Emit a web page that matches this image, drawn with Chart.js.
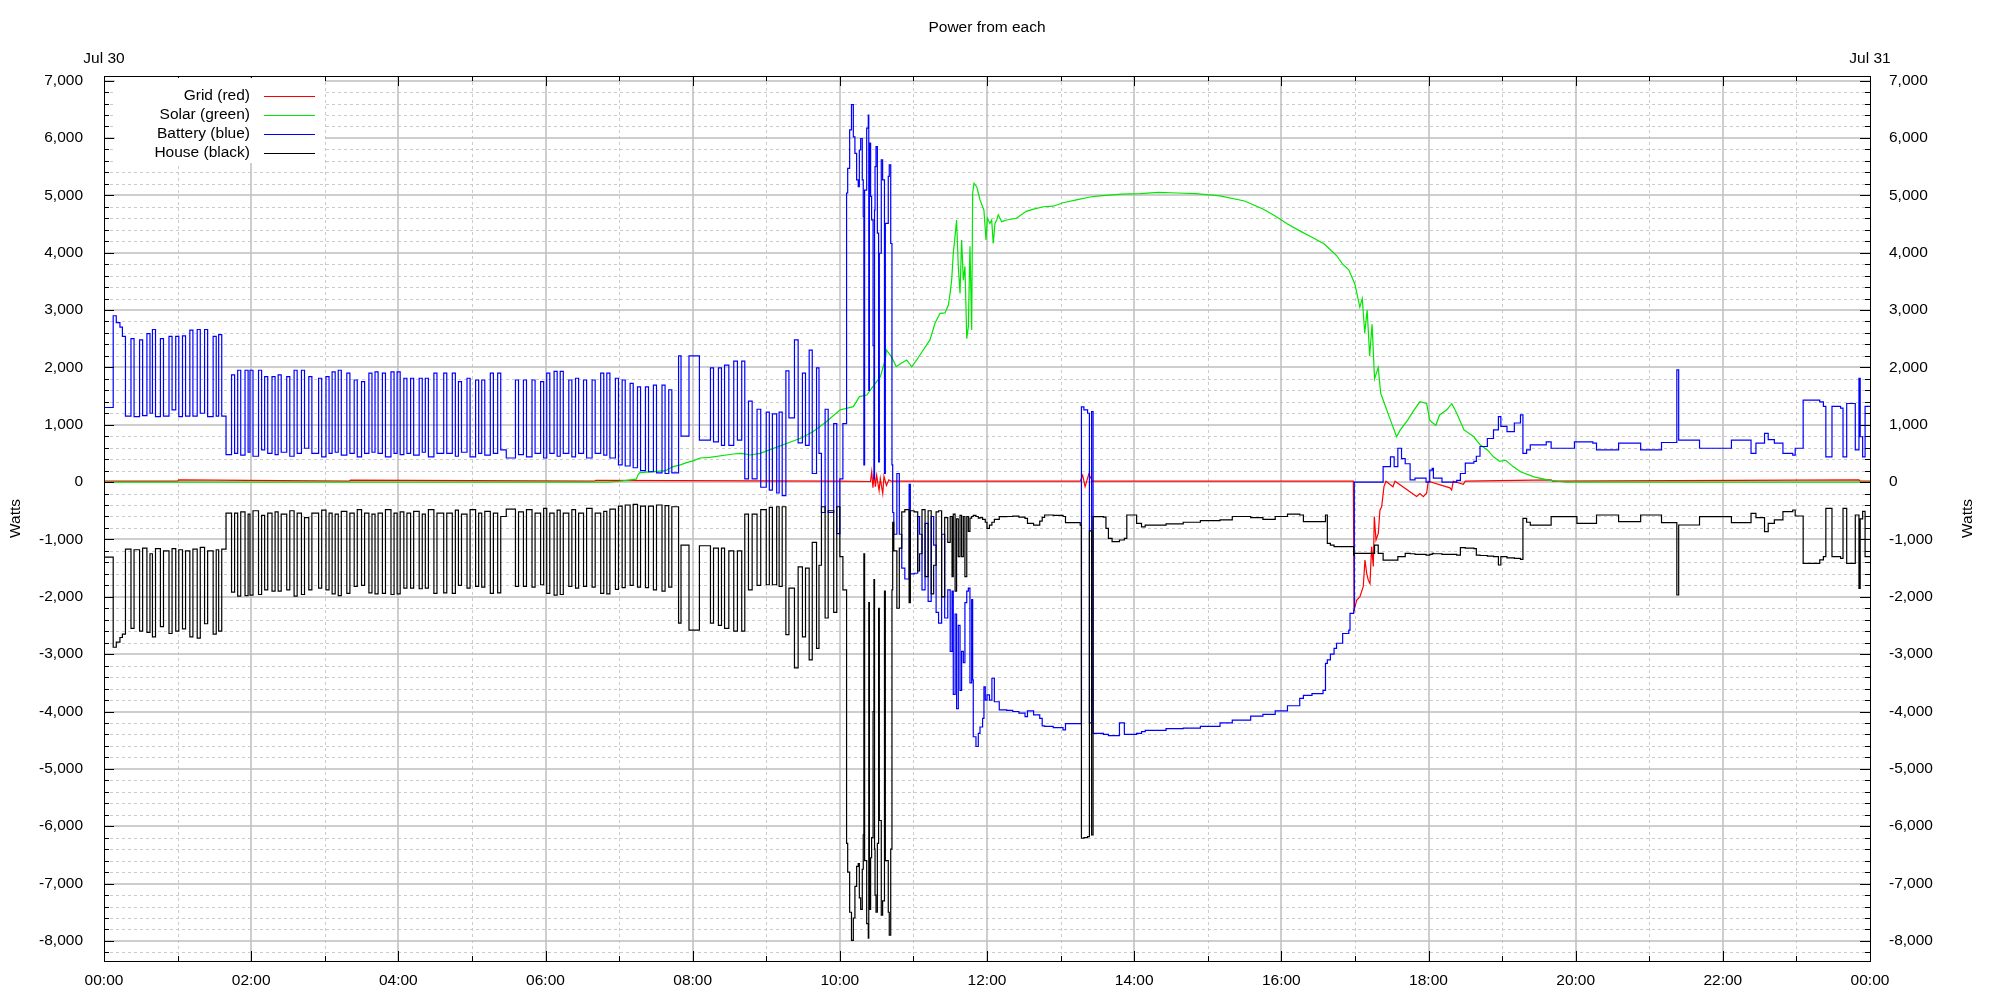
<!DOCTYPE html>
<html>
<head>
<meta charset="utf-8">
<title>Power from each</title>
<script src="https://cdn.jsdelivr.net/npm/chart.js@4.4.1/dist/chart.umd.min.js"></script>
<style>
  html, body { margin: 0; padding: 0; background: #fff; }
  #wrap { width: 2000px; height: 1000px; position: relative; }
</style>
</head>
<body>
<div id="wrap"><canvas id="power-chart"></canvas></div>
<script>
// Axis ticks
const xTicks = [0, 120, 240, 360, 480, 600, 720, 840, 960, 1080, 1200, 1320, 1440];
const xTickLabels = ["00:00", "02:00", "04:00", "06:00", "08:00", "10:00", "12:00",
    "14:00", "16:00", "18:00", "20:00", "22:00", "00:00"];
const dayLabels = ["Jul 30", "Jul 31"];
const yTicks = [-8000, -7000, -6000, -5000, -4000, -3000, -2000, -1000, 0,
    1000, 2000, 3000, 4000, 5000, 6000, 7000];

// Grid (red): minutes after midnight, watts
const gridMin = [0, 60, 61, 200, 201, 400, 401, 600,
    625, 626, 627, 628, 629, 630, 632, 633, 635, 636, 638, 640, 642, 700, 796,
    798, 800, 803, 806,
    1018.7, 1019.4, 1021.4, 1024.1, 1026.8, 1028.2, 1029.6, 1030.9, 1032.3, 1033.6, 1035, 1035.8,
    1037.2, 1039.1, 1040.4, 1041.8, 1043.7, 1045.3,
    1051, 1052.7, 1070.3, 1073, 1075.8, 1078.5, 1079.8, 1097.5, 1098.9, 1100.2, 1108.4, 1110,
    1180, 1181, 1431, 1432, 1440];
const grid = [15, 15, 40, 15, 35, 15, 30, 15,
    10, 180, -100, 150, -80, 120, -150, 60, -200, 100, -60, 40, 15, 15, 15,
    120, -80, 140, 15,
    15, -2230, -2060, -2000, -1820, -1360, -1590, -1710, -1770, -1130, -1470, -600,
    -1010, -890, -490, -430, -80, 15,
    -80, 15, -250, -200, -255, -190, 15, -100, -140, 15, -40, 15,
    40, 15, 40, 15, 15];

// Solar (green)
const solarMin = [0, 411, 420, 426, 434, 435.7, 437, 448, 456, 459, 464, 470, 475, 481, 486, 494,
    513, 520, 527, 535, 546, 557, 568, 578, 589, 600, 611, 616, 622, 627, 633, 637, 638, 642,
    646, 650, 654.5, 658.6, 662.7, 668, 673.5, 677.6, 681.7, 685.8, 688.5, 689.9, 691.2,
    692.5, 693.9, 695.2, 696.6, 698, 699.3, 700.7, 702, 703.5, 704.8, 706.1, 707.5, 708.3,
    709.4, 711.6, 712.9, 714.3, 716.4, 717.5, 719.2, 720.3, 722.4, 723.8, 725.1, 726.5,
    727.9, 729.2, 732, 736, 744, 752, 758, 766, 774, 782, 793, 804, 812, 830, 845, 860,
    875, 890, 910, 930, 945, 955, 965, 975, 985, 995, 1000, 1005, 1010, 1015, 1020,
    1024, 1026, 1028, 1030, 1032, 1034, 1036, 1039, 1041, 1043, 1049, 1054, 1057, 1063,
    1068, 1073, 1078.5, 1081, 1084, 1086, 1089, 1095, 1099, 1103, 1109, 1117, 1122, 1128,
    1133, 1138, 1143, 1149, 1155, 1166, 1177, 1187, 1192, 1440];
const solar = [0, 0, 14, 30, 50, 135, 165, 182, 194, 211, 270, 300, 340, 374, 420, 430,
    490, 500, 472, 500, 588, 676, 763, 879, 1053, 1257, 1315, 1490, 1518, 1664, 1838, 2129, 2303, 2187,
    2013, 2071, 2129, 2010, 2129, 2303, 2478, 2768, 2943, 2950, 3088, 3291, 3524,
    3990, 4280, 4570, 3760, 3290, 4220, 3520, 3760, 2500, 2710, 4110, 2650, 5040,
    5210, 5150, 5040, 4920, 4800, 4740, 4220, 4600, 4510, 4570, 4160, 4510,
    4570, 4660, 4540, 4570, 4600, 4720, 4760, 4800, 4810, 4870, 4920, 4970, 4990, 5020, 5030, 5050,
    5040, 5030, 4990, 4900, 4760, 4640, 4500, 4380, 4270, 4150, 4050, 3950, 3800, 3700, 3450,
    3050, 3200, 2600, 3000, 2200, 2750, 1800, 2000, 1550, 1430, 1080, 790, 910, 1080,
    1250, 1400, 1370, 1080, 1020, 990, 1170, 1260, 1370, 1200, 910, 790, 650, 560,
    440, 360, 380, 270, 180, 90, 40, 10, 0, 0];

// Battery (blue) and House (black) share one time column
const battMin = [
    0, 7.5, 10, 13, 15, 17.5, 22, 24.5, 29, 31.5, 35, 37.5, 39.5, 42, 46, 48.5, 53, 55.5, 58.5, 61, 64, 66.5, 70, 72.5, 76, 78.5, 82, 84.5, 89, 91.5, 93.5, 96, 99.5,
    104, 106.5, 109, 111.5, 115, 117.5, 119, 121.5, 126, 128.5, 131, 133.5, 137, 139.5, 142, 144.5, 149, 151.5, 155, 157.5,
    161, 163.5, 167, 169.5, 175, 177.5, 181, 183.5, 186, 188.5, 191, 193.5, 198, 200.5, 204, 206.5, 210, 212.5, 216, 218.5,
    221, 223.5, 227, 229.5, 234, 236.5, 239, 241.5, 244.5, 247, 250, 252.5, 257, 259.5, 262, 264.5, 269, 271.5, 277, 279.5,
    284, 286.5, 289, 291.5, 296, 298.5, 303, 305.5, 308, 310.5, 315, 317.5, 321, 323.5, 328,
    335.5, 338, 342, 344.5, 349, 351.5, 356, 358.5, 361, 363.5, 367, 369.5, 372, 374.5, 379, 381.5, 384.5, 387, 391, 393.5,
    398, 400.5, 405, 407.5, 410, 412.5, 417, 419.5, 422.5, 425, 429, 431.5, 435, 437.5, 441.5, 444, 448, 450.5, 455, 457.5, 460.5, 463,
    468.5, 470.5, 477, 485.5, 494.5, 497, 501, 503.5, 506, 509.5, 513.5, 516.5, 520, 522.5,
    525.5, 528.5, 532.5, 535.5, 540, 542.5, 545, 548.5, 550.5, 553,
    556, 558.5, 563, 566, 569.5, 572, 575, 577.5, 581, 583, 585, 588, 590.5, 595, 597.5, 600, 602.5,
    605.5, 606.4, 608, 609.5, 611, 612.3, 613.7, 615, 615.9, 617, 618.3, 619.1, 619.6, 620.2, 621.9, 623.2, 623.6, 624.1, 625.1, 625.9,
    627.1, 627.8, 628.3, 628.7, 629.5, 630.6, 631.6, 632.2, 633.8, 634.9, 636.4, 637.1, 639.5, 640.3, 641.5, 642.5, 643.1,
    644, 646.5, 648.5, 650.5, 653, 656.5, 657.5, 660.5, 663.5, 665, 667, 669.5, 672, 674.5, 676.5, 678.5, 680.5, 683, 685.5, 688,
    690, 691.5, 692.5, 694, 695.2, 696.6, 698, 699.3, 700.7, 702, 703.5, 704.8, 706.1, 707.5, 708.3, 708.8, 711, 712.9, 714.3, 716.4,
    717.5, 718.6, 720,
    722, 724, 726, 730, 736, 741, 746, 751, 753, 758, 763, 765, 767, 774, 782, 784, 796, 797, 799, 802,
    803.5, 805.3, 806.5, 815, 817, 819, 822, 828, 832, 834, 842, 846, 849, 866, 880, 894, 910, 920, 935, 945,
    955, 965, 975, 978, 985, 994, 996, 997.5, 1000, 1003, 1005, 1010, 1015, 1016, 1019,
    1019.5, 1036, 1039, 1043, 1049, 1052, 1055, 1058, 1061, 1065, 1069, 1078, 1081, 1083, 1084, 1091, 1103, 1106, 1110, 1117,
    1119, 1122, 1128, 1133, 1137, 1139, 1144, 1150, 1155, 1157, 1160, 1163, 1176, 1180, 1199, 1201, 1214, 1217, 1235, 1253,
    1270, 1282.5, 1284, 1301, 1327, 1343, 1347, 1354, 1357, 1362, 1369, 1377, 1379, 1385.5, 1399, 1402, 1404, 1409, 1416, 1418,
    1421, 1428, 1431, 1432, 1434, 1436, 1440];
const battery = [
    1300, 2900, 2780, 2700, 2540, 1150, 2500, 1140, 2480, 1160, 2590, 1200, 2660, 1140, 2500, 1150, 2540, 1260, 2540, 1140, 2550, 1150, 2650, 1150, 2660, 1200, 2660, 1140, 2540, 1150, 2570, 1150, 480,
    1870, 500, 1950, 470, 1950, 520, 1950, 450, 1950, 560, 1840, 500, 1840, 480, 1870, 520, 1840, 450, 1950, 500,
    1950, 590, 1840, 500, 1810, 440, 1840, 500, 1920, 520, 1950, 470, 1900, 500, 1780, 440, 1750, 500, 1900, 520,
    1920, 500, 1900, 440, 1920, 500, 1920, 480, 1810, 500, 1810, 470, 1810, 520, 1810, 440, 1900, 500, 1900, 500,
    1900, 450, 1750, 520, 1810, 440, 1780, 500, 1780, 470, 1900, 500, 1900, 560, 420,
    1780, 480, 1780, 440, 1780, 500, 1750, 420, 1900, 500, 1930, 450, 1930, 500, 1780, 440, 1810, 500, 1780, 420,
    1780, 500, 1900, 470, 1900, 420, 1810, 300, 1780, 280, 1720, 250, 1660, 200, 1660, 180, 1690, 160, 1690, 150, 1610, 160,
    2200, 800, 2200, 730, 1990, 700, 1990, 640, 2040, 640, 2110, 730, 2110, 55,
    1410, 55, 1270, -90, 1220, -140, 1190, -190, 1220, -235,
    1940, 1120, 2480, 685, 1900, 640, 2300, 150, 1990, 500, -530, 1270, -530, 1020, -900, 55, 1020,
    5040, 5470, 6140, 6580, 6020, 5730, 5270, 5150, 5790, 5990, 5270, 4630, 300, 5090, 6170, 6400, 1600, 5910, 4980, 4570,
    2380, 60, 4740, 5500, 5850, 4340, 350, 3990, 5620, 5270, 150, 4510, 5330, 5530, 4160, 300, -530,
    -910, 150, -910, -1500, -1690, -40, -1600, -1590, -600, -910, -1880, -720, -2080, -600, -1100, -2270, -2460, -910, -2370, -1880,
    -2950, -1900, -3700, -2300, -3950, -2500, -3630, -2950, -3150, -2100, -1900, -1850, -3500, -2050, -3450, -4440, -4610, -4380, -4270, -4120,
    -3570, -3800, -3710,
    -3800, -3420, -3830, -3970, -3980, -4000, -4030, -4090, -3990, -4060, -4120, -4250, -4260, -4280, -4320, -4210, -4210, 1310, 1260, 1200,
    -4200, 1230, -4380, -4400, -4400, -4420, -4420, -4200, -4400, -4400, -4380, -4350, -4330, -4300, -4290, -4260, -4200, -4150, -4080, -4050,
    -3990, -3900, -3770, -3720, -3690, -3630, -3160, -3100, -3000, -2900, -2810, -2640, -2580, -2290, -2230,
    0, 0, 0, 270, 440, 270, 590, 410, 320, 40, 70, 0, 210, 240, 70, 0, 30, 150, 330, 360,
    450, 620, 760, 910, 1140, 970, 880, 1030, 1170, 500, 560, 650, 700, 590, 700, 700, 680, 560, 680, 560,
    690, 1955, 730, 590, 730, 500, 680, 850, 740, 680, 500, 470, 590, 1430, 1400, 1320, 440, 1320, 1290, 440,
    1370, 560, 1810, 790, 440, 1320, 1320];
const house = [
    -1310, -2880, -2790, -2710, -2650, -1170, -2550, -1180, -2600, -1150, -2620, -1250, -2700, -1160, -2520, -1200, -2640, -1160, -2600, -1180, -2560, -1200, -2700, -1170, -2720, -1140, -2470, -1200, -2650, -1180, -2600, -1170, -540,
    -1920, -540, -1990, -520, -1980, -560, -1970, -500, -1960, -580, -1880, -540, -1900, -520, -1900, -560, -1880, -500, -1990, -540,
    -1960, -620, -1880, -540, -1850, -490, -1880, -540, -1950, -560, -1980, -510, -1940, -540, -1820, -480, -1800, -540, -1930, -560,
    -1950, -540, -1940, -480, -1960, -540, -1950, -520, -1850, -540, -1850, -510, -1860, -560, -1850, -480, -1940, -540, -1930, -540,
    -1940, -490, -1800, -560, -1850, -480, -1820, -540, -1830, -510, -1940, -540, -1930, -600, -470,
    -1820, -520, -1820, -480, -1830, -540, -1790, -460, -1940, -540, -1970, -490, -1960, -540, -1820, -480, -1850, -540, -1820, -460,
    -1830, -540, -1940, -510, -1950, -470, -1870, -420, -1840, -400, -1800, -390, -1830, -420, -1840, -420, -1880, -400, -1900, -410, -1830, -430,
    -2460, -1100, -2580, -1110, -2460, -1150, -2500, -1150, -2550, -1200, -2600, -1200, -2600, -560,
    -1880, -560, -1800, -480, -1790, -440, -1790, -430, -1820, -430,
    -2660, -1850, -3240, -1480, -2700, -1500, -3100, -1050, -2900, -1450, -430, -2370, -500, -2270, -430, -1300, -1880,
    -6300, -6800, -7500, -7990, -7600, -7050, -6700, -6650, -7250, -7450, -6750, -6150, -1250, -6600, -7700, -7950, -2100, -7450, -6550, -6200,
    -4000, -1700, -6400, -7200, -7500, -6300, -2200, -5900, -7550, -7300, -1900, -6600, -7500, -7900, -6400, -1880, -700,
    -1200, -2200, -1150, -520, -480, -2100, -500, -520, -1550, -1250, -480, -1650, -500, -1950, -1450, -520, -500, -2000, -620, -1050,
    -600, -1650, -560, -1900, -640, -1300, -580, -1300, -600, -1650, -600, -860, -630, -600, -600, -580, -600, -630, -620, -650,
    -650, -700, -807,
    -750, -700, -650, -603, -600, -592, -610, -632, -720, -749, -680, -615, -574, -580, -600, -708, -749, -6210, -6200, -6180,
    -850, -6150, -603, -610, -807, -981, -1039, -1010, -980, -574, -720, -780, -749, -730, -700, -673, -660, -600, -620, -650,
    -600, -560, -574, -690, -691, -690, -574, -1069, -1100, -1127, -1127, -1127, -1127, -1127, -1272,
    -1243, -1100, -1243, -1359, -1359, -1359, -1300, -1300, -1243, -1250, -1260, -1272, -1260, -1243, -1250, -1260, -1272, -1144, -1150, -1160,
    -1272, -1280, -1290, -1301, -1446, -1300, -1320, -1330, -1348, -633, -700, -749, -749, -604, -604, -720, -720, -574, -691, -574,
    -708, -1969, -748, -603, -708, -545, -620, -864, -720, -660, -516, -487, -591, -1417, -1358, -1300, -458, -1300, -1330, -458,
    -1417, -574, -1853, -640, -510, -1300, -1300];

const Y_MIN = -8350;
const Y_MAX = 7080;
const FONT = '"Liberation Sans", Arial, sans-serif';

// turn two columns into {x, y} points
function points(times, values) {
    return times.map((t, i) => ({ x: t, y: values[i] }));
}

function line(ctx, x1, y1, x2, y2) {
    ctx.beginPath();
    ctx.moveTo(x1, y1);
    ctx.lineTo(x2, y2);
    ctx.stroke();
}

// gnuplot style grid, frame, inward ticks, opaque legend, right axis label
const gnuplotLook = {
    id: 'gnuplotLook',
    beforeDatasetsDraw(chart) {
        const { ctx, chartArea: a, scales: { x, y } } = chart;
        ctx.save();
        ctx.strokeStyle = '#cbcbcb';
        ctx.lineWidth = 1;
        ctx.setLineDash([3, 3]);
        for (let v = -8200; v < Y_MAX; v += 200) {
            if (v % 1000 === 0) continue;
            const py = Math.round(y.getPixelForValue(v)) + 0.5;
            line(ctx, a.left, py, a.right, py);
        }
        for (let t = 60; t < 1440; t += 120) {
            const px = Math.round(x.getPixelForValue(t)) + 0.5;
            line(ctx, px, a.top, px, a.bottom);
        }
        ctx.setLineDash([]);
        ctx.strokeStyle = '#bebebe';
        ctx.lineWidth = 1.5;
        yTicks.forEach(v => {
            const py = Math.round(y.getPixelForValue(v));
            line(ctx, a.left, py, a.right, py);
        });
        xTicks.slice(1, -1).forEach(t => {
            const px = Math.round(x.getPixelForValue(t));
            line(ctx, px, a.top, px, a.bottom);
        });
        ctx.restore();
    },
    afterDatasetsDraw(chart) {
        const { ctx, chartArea: a, scales: { x, y } } = chart;
        ctx.save();
        ctx.strokeStyle = '#000';
        ctx.lineWidth = 1;
        ctx.strokeRect(Math.round(a.left) + 0.5, Math.round(a.top) + 0.5,
            Math.round(a.right - a.left), Math.round(a.bottom - a.top));
        for (let v = -8200; v < Y_MAX; v += 200) {
            const py = Math.round(y.getPixelForValue(v)) + 0.5;
            const len = v % 1000 === 0 ? 10 : 5;
            line(ctx, a.left, py, a.left + len, py);
            line(ctx, a.right, py, a.right - len, py);
        }
        for (let t = 0; t <= 1440; t += 60) {
            const px = Math.round(x.getPixelForValue(t)) + 0.5;
            const len = t % 120 === 0 ? 10 : 5;
            line(ctx, px, a.bottom, px, a.bottom - len);
            line(ctx, px, a.top, px, a.top + len);
        }

        // legend box in the top left corner
        ctx.fillStyle = '#fff';
        ctx.fillRect(a.left + 11, a.top + 2, 210, 85);
        ctx.font = '15.5px ' + FONT;
        ctx.textAlign = 'right';
        ctx.textBaseline = 'middle';
        chart.data.datasets.forEach((ds, i) => {
            const ly = a.top + 20 + i * 19;
            ctx.fillStyle = '#000';
            ctx.fillText(ds.label, a.left + 146, ly);
            ctx.strokeStyle = ds.borderColor;
            ctx.lineWidth = 1.2;
            line(ctx, a.left + 160, ly + 0.5, a.left + 211, ly + 0.5);
        });

        // right hand "Watts"
        ctx.translate(1968, (a.top + a.bottom) / 2);
        ctx.rotate(-Math.PI / 2);
        ctx.textAlign = 'center';
        ctx.fillStyle = '#000';
        ctx.fillText('Watts', 0, 0);
        ctx.restore();
    }
};

Chart.defaults.font.family = FONT;
Chart.defaults.font.size = 15.5;
Chart.defaults.color = '#000';

const powerCanvas = document.getElementById('power-chart');

const powerData = {
    datasets: [{
        label: 'Grid (red)',
        data: points(gridMin, grid),
        borderColor: '#ff0000',
        order: 3
    }, {
        label: 'Solar (green)',
        data: points(solarMin, solar),
        borderColor: '#00e600',
        order: 2
    }, {
        label: 'Battery (blue)',
        data: points(battMin, battery),
        borderColor: '#0000ff',
        stepped: true,
        order: 1
    }, {
        label: 'House (black)',
        data: points(battMin, house),
        borderColor: '#000000',
        stepped: true,
        order: 0
    }]
};

const valueAxis = (side, width) => ({
    type: 'linear',
    position: side,
    min: Y_MIN,
    max: Y_MAX,
    afterBuildTicks: (scale) => { scale.ticks = yTicks.map(v => ({ value: v })); },
    afterFit: (scale) => { scale.width = width; },
    grid: { display: false },
    border: { display: false },
    ticks: {
        padding: side === 'left' ? 13 : 11,
        autoSkip: false,
        callback: (v) => v.toLocaleString('en-US')
    }
});

const powerOptions = {
    responsive: true,
    maintainAspectRatio: false,
    animation: false,
    events: [],
    parsing: false,
    layout: { padding: 0 },
    elements: {
        line: { borderWidth: 1.2, tension: 0, fill: false },
        point: { radius: 0 }
    },
    scales: {
        x: {
            type: 'linear',
            position: 'bottom',
            min: 0,
            max: 1440,
            afterBuildTicks: (scale) => { scale.ticks = xTicks.map(v => ({ value: v })); },
            afterFit: (scale) => { scale.height = 39; },
            grid: { display: false },
            border: { display: false },
            ticks: {
                padding: 2,
                autoSkip: false,
                maxRotation: 0,
                callback: (v, i) => xTickLabels[i]
            }
        },
        x2: {
            type: 'linear',
            position: 'top',
            min: 0,
            max: 1440,
            afterBuildTicks: (scale) => { scale.ticks = [{ value: 0 }, { value: 1440 }]; },
            afterFit: (scale) => { scale.height = 76; },
            grid: { display: false },
            border: { display: false },
            title: {
                display: true,
                text: 'Power from each',
                padding: { top: 18, bottom: 0 }
            },
            ticks: {
                padding: 0,
                autoSkip: false,
                maxRotation: 0,
                callback: (v, i) => dayLabels[i]
            }
        },
        y: Object.assign(valueAxis('left', 104), {
            title: { display: true, text: 'Watts', padding: { top: 6, bottom: 0 } }
        }),
        y2: valueAxis('right', 130)
    },
    plugins: {
        legend: { display: false },
        tooltip: { enabled: false }
    }
};

let powerChart = new Chart(powerCanvas, {
    type: 'line',
    data: powerData,
    options: powerOptions,
    plugins: [gnuplotLook]
});
</script>
</body>
</html>
